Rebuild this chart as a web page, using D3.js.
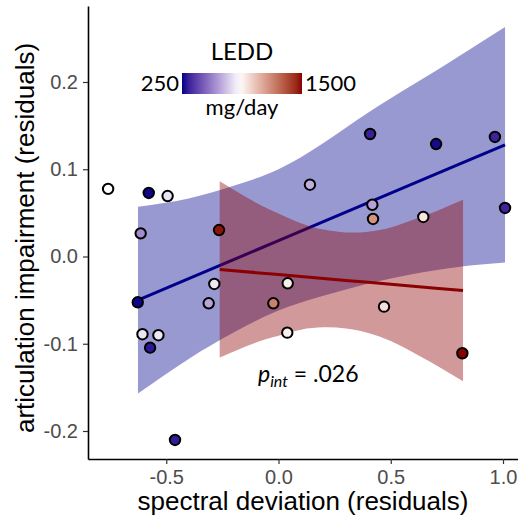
<!DOCTYPE html>
<html>
<head>
<meta charset="utf-8">
<script src="https://cdn.jsdelivr.net/npm/d3@7"></script>
<style>
  body { margin: 0; background: #fff; }
  svg { display: block; }
</style>
</head>
<body>
<div class="chart"></div>
<script>
const width = 518;
const height = 520;

// point data
const spectral = [-0.759, -0.578, -0.494, -0.614, -0.265, 0.408, 0.702, 0.964, 0.140, 0.418,
                  0.421, 0.645, 1.009, -0.627, -0.606, -0.535, -0.572, -0.461, -0.311, -0.286,
                  0.041, -0.023, 0.039, 0.470, 0.819];
const articulation = [0.0775, 0.0728, 0.0693, 0.0265, 0.0303, 0.1404, 0.1289, 0.137, 0.0823, 0.0593,
                      0.0430, 0.0453, 0.0556, -0.0525, -0.0891, -0.0902, -0.1045, -0.2103, -0.0536, -0.0315,
                      -0.0307, -0.0536, -0.0873, -0.0575, -0.1109];
const ledd = [850, 260, 790, 590, 1480, 320, 270, 330, 670, 640,
              1150, 920, 330, 260, 790, 800, 300, 310, 650, 800,
              900, 1200, 890, 940, 1500];

// fitted lines and 95% bands
const lowX     = [-0.626, -0.4, -0.2, 0.0, 0.2, 0.4, 0.6, 0.8, 1.009];
const lowFit   = [-0.050, -0.0254, -0.0036, 0.0182, 0.0400, 0.0617, 0.0835, 0.1053, 0.128];
const lowUpper = [0.057, 0.0666, 0.081, 0.100, 0.130, 0.165, 0.197, 0.229, 0.263];
const lowLower = [-0.157, -0.1174, -0.0872, -0.0618, -0.045, -0.031, -0.020, -0.012, -0.007];

const highX     = [-0.262, -0.1, 0.0, 0.1, 0.2, 0.3, 0.4, 0.5, 0.6, 0.7, 0.822];
const highFit   = [-0.0149, -0.0185, -0.0207, -0.0229, -0.0252, -0.0274, -0.0296, -0.0318, -0.0340, -0.0363, -0.0390];
const highUpper = [0.0861, 0.0615, 0.0493, 0.0381, 0.0308, 0.0276, 0.0284, 0.0332, 0.0420, 0.0517, 0.0650];
const highLower = [-0.1159, -0.0985, -0.0907, -0.0839, -0.0812, -0.0824, -0.0876, -0.0968, -0.1100, -0.1243, -0.1430];

const leddRange = [250, 1500];
const leddMid = 850;
const xTicks = [-0.5, 0.0, 0.5, 1.0];
const yTicks = [-0.2, -0.1, 0.0, 0.1, 0.2];

const margin = { left: 88, right: 0, top: 6, bottom: 61 };

const x = d3.scaleLinear()
    .domain([-0.8486, 1.0668])
    .range([margin.left, width - margin.right]);
const y = d3.scaleLinear()
    .domain([-0.2321, 0.2871])
    .range([height - margin.bottom, margin.top]);

const color = d3.scaleLinear()
    .domain([leddRange[0], leddMid, leddRange[1]])
    .range(["darkblue", "white", "darkred"])
    .interpolate(d3.interpolateLab);

const points = spectral.map((d, i) => ({ x: d, y: articulation[i], ledd: ledd[i] }));

const smooths = [
    { col: "darkblue", xs: lowX, fit: lowFit, hi: lowUpper, lo: lowLower },
    { col: "darkred", xs: highX, fit: highFit, hi: highUpper, lo: highLower }
];

const svg = d3.select(".chart").append("svg")
    .attr("width", width)
    .attr("height", height);

// ribbon then line, one group after the other
smooths.forEach(s => {
    const rows = s.xs.map((xv, i) => ({ x: xv, fit: s.fit[i], hi: s.hi[i], lo: s.lo[i] }));
    svg.append("path")
        .datum(rows)
        .attr("fill", s.col)
        .attr("fill-opacity", 0.4)
        .attr("d", d3.area().curve(d3.curveNatural)
            .x(d => x(d.x)).y0(d => y(d.lo)).y1(d => y(d.hi)));
    svg.append("path")
        .datum(rows)
        .attr("fill", "none")
        .attr("stroke", s.col)
        .attr("stroke-width", 3)
        .attr("d", d3.line().x(d => x(d.x)).y(d => y(d.fit)));
});

// points
svg.append("g")
    .selectAll("circle")
    .data(points)
    .join("circle")
    .attr("cx", d => x(d.x))
    .attr("cy", d => y(d.y))
    .attr("r", 5.2)
    .attr("fill", d => color(d.ledd))
    .attr("stroke", "black")
    .attr("stroke-width", 2);

// axes
const xAxis = svg.append("g")
    .attr("transform", `translate(0,${height - margin.bottom})`)
    .call(d3.axisBottom(x).tickValues(xTicks).tickSizeInner(5).tickSizeOuter(0).tickPadding(6));
const yAxis = svg.append("g")
    .attr("transform", `translate(${margin.left},0)`)
    .call(d3.axisLeft(y).tickValues(yTicks).tickSizeInner(5).tickSizeOuter(0).tickPadding(5));

[xAxis, yAxis].forEach(ax => {
    ax.select(".domain").attr("stroke", "black").attr("stroke-width", 1.6);
    ax.selectAll(".tick line").attr("stroke", "#333").attr("stroke-width", 1.2);
    ax.selectAll(".tick text")
      .attr("fill", "#4d4d4d")
      .style("font", "20px 'Liberation Sans', Arial, sans-serif")
      .text(d => d3.format(".1f")(d).replace("−", "-"));
});

svg.append("text")
    .attr("x", (margin.left + width - margin.right) / 2)
    .attr("y", 510)
    .attr("text-anchor", "middle")
    .style("font", "26px 'Liberation Sans', Arial, sans-serif")
    .text("spectral deviation (residuals)");

svg.append("text")
    .attr("transform", "translate(34,238) rotate(-90)")
    .attr("text-anchor", "middle")
    .style("font", "26px 'Liberation Sans', Arial, sans-serif")
    .text("articulation impairment (residuals)");

// colour bar legend
const legend = svg.append("g").style("font", "22px Lato, sans-serif");
const barX = 182, barY = 73, barW = 120, barH = 21;

const grad = svg.append("defs").append("linearGradient")
    .attr("id", "ledd-grad");
grad.selectAll("stop")
    .data(d3.range(0, 1.0001, 0.05))
    .join("stop")
    .attr("offset", d => d)
    .attr("stop-color", d => color(leddRange[0] + d * (leddRange[1] - leddRange[0])));

legend.append("rect")
    .attr("x", barX).attr("y", barY)
    .attr("width", barW).attr("height", barH)
    .attr("fill", "url(#ledd-grad)");

legend.append("text")
    .attr("x", barX + barW / 2).attr("y", 60)
    .attr("text-anchor", "middle")
    .style("font-size", "24px")
    .text("LEDD");
legend.append("text")
    .attr("x", barX - 3).attr("y", 91)
    .attr("text-anchor", "end")
    .text(leddRange[0]);
legend.append("text")
    .attr("x", barX + barW + 3).attr("y", 91)
    .text(leddRange[1]);
legend.append("text")
    .attr("x", barX + barW / 2).attr("y", 115)
    .attr("text-anchor", "middle")
    .text("mg/day");

// interaction p-value
const ann = svg.append("text")
    .attr("x", 258).attr("y", 382)
    .style("font", "23px Lato, sans-serif");
ann.append("tspan").style("font-style", "italic").text("p");
ann.append("tspan").style("font-style", "italic").style("font-size", "16px").attr("dy", 5).text("int");
ann.append("tspan").attr("dy", -5).text(" = .026");
</script>
</body>
</html>
